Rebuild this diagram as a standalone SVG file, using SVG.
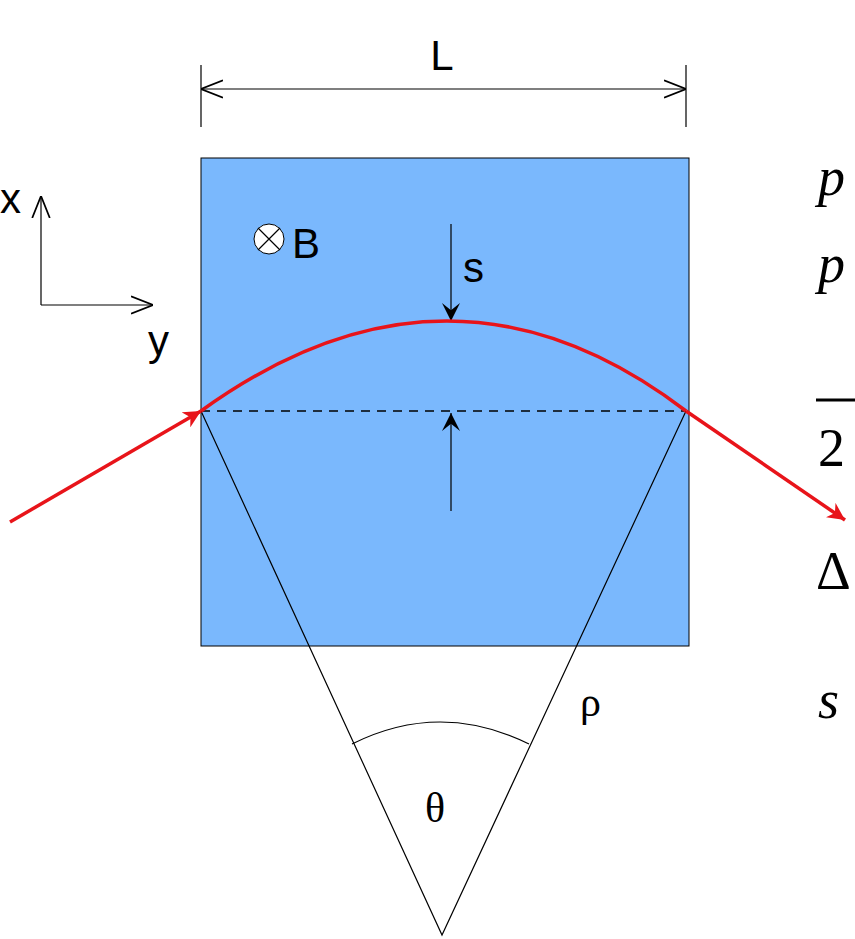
<svg xmlns="http://www.w3.org/2000/svg" width="855" height="939" viewBox="0 0 855 939">
<style>
.t{font-family:"Liberation Sans",Arial,sans-serif;fill:#000}
.m{font-family:"Liberation Serif","Times New Roman",serif;font-style:italic;font-size:54px;fill:#000}
.u{font-family:"Liberation Serif","Times New Roman",serif;font-style:normal;fill:#000}
.k{stroke:#000;stroke-width:1.2;fill:none}
.r{stroke:#e8141a;stroke-width:3.5;fill:none}
</style>
<defs>
<marker id="ra" viewBox="0 0 10 10" refX="10" refY="5" markerWidth="5" markerHeight="5" orient="auto" markerUnits="strokeWidth"><path d="M0,0 L10,5 L0,10 L3,5 z" fill="#e8141a"/></marker>
<marker id="ka" viewBox="0 0 10 10" refX="10" refY="5" markerWidth="18" markerHeight="18" orient="auto" markerUnits="userSpaceOnUse"><path d="M0,0 L10,5 L0,10 L4,5 z" fill="#000"/></marker>
<marker id="oa" viewBox="0 0 10 10" refX="10" refY="5" markerWidth="22" markerHeight="22" orient="auto-start-reverse" markerUnits="userSpaceOnUse"><path d="M0,1 L10,5 L0,9" fill="none" stroke="#000" stroke-width="0.8"/></marker>
</defs>
<rect width="855" height="939" fill="#fff"/>
<g id="magnet"><rect x="201" y="158" width="488" height="488" fill="#7ab8fd" stroke="#000" stroke-width="1"/></g>
<g id="field"><circle cx="269" cy="239" r="15" fill="#fff" stroke="#000"/><path class="k" d="M258,228 L280,250 M280,228 L258,250"/><text class="t" x="292" y="258" font-size="42">B</text></g>
<g id="axes"><path class="k" d="M41,305 V196" marker-end="url(#oa)"/><path class="k" d="M41,305 H153" marker-end="url(#oa)"/><text class="t" x="0" y="213" font-size="42">x</text><text class="t" x="148" y="355" font-size="42">y</text></g>
<g id="dimL"><path class="k" d="M201,65 V127 M686,65 V127"/><path class="k" d="M201,89 H686" marker-start="url(#oa)" marker-end="url(#oa)"/><text class="t" x="442" y="70" font-size="42" text-anchor="middle">L</text></g>
<g id="connectors">
<path class="k" d="M201,411 L442,935 L686,411"/>
<path class="k" d="M352,744 Q440,700 529,744"/>
<path d="M201,411 H686" stroke="#000" stroke-width="1.5" stroke-dasharray="9,7"/>
<path class="k" d="M451,224 V321" marker-end="url(#ka)"/>
<path class="k" d="M451,511 V413" marker-end="url(#ka)"/>
<path class="r" d="M10,522 L201,411" marker-end="url(#ra)"/>
<path class="r" d="M201,411 Q450,231 686,411"/>
<path class="r" d="M686,411 L845,520" marker-end="url(#ra)"/>
</g>
<g id="labels"><text class="t" x="463" y="282" font-size="42">s</text><text class="u" x="580" y="716" font-size="42">ρ</text><text class="u" x="435" y="822" font-size="42" text-anchor="middle">θ</text></g>
<g id="formula">
<text class="m" x="818" y="195">p</text>
<text class="m" x="818" y="282">p</text>
<path d="M816,400 H855" stroke="#000" stroke-width="3"/>
<text class="u" x="818" y="466" font-size="54">2</text>
<text class="u" x="816" y="589" font-size="54">Δ</text>
<text class="m" x="818" y="718">s</text>
</g>
</svg>
